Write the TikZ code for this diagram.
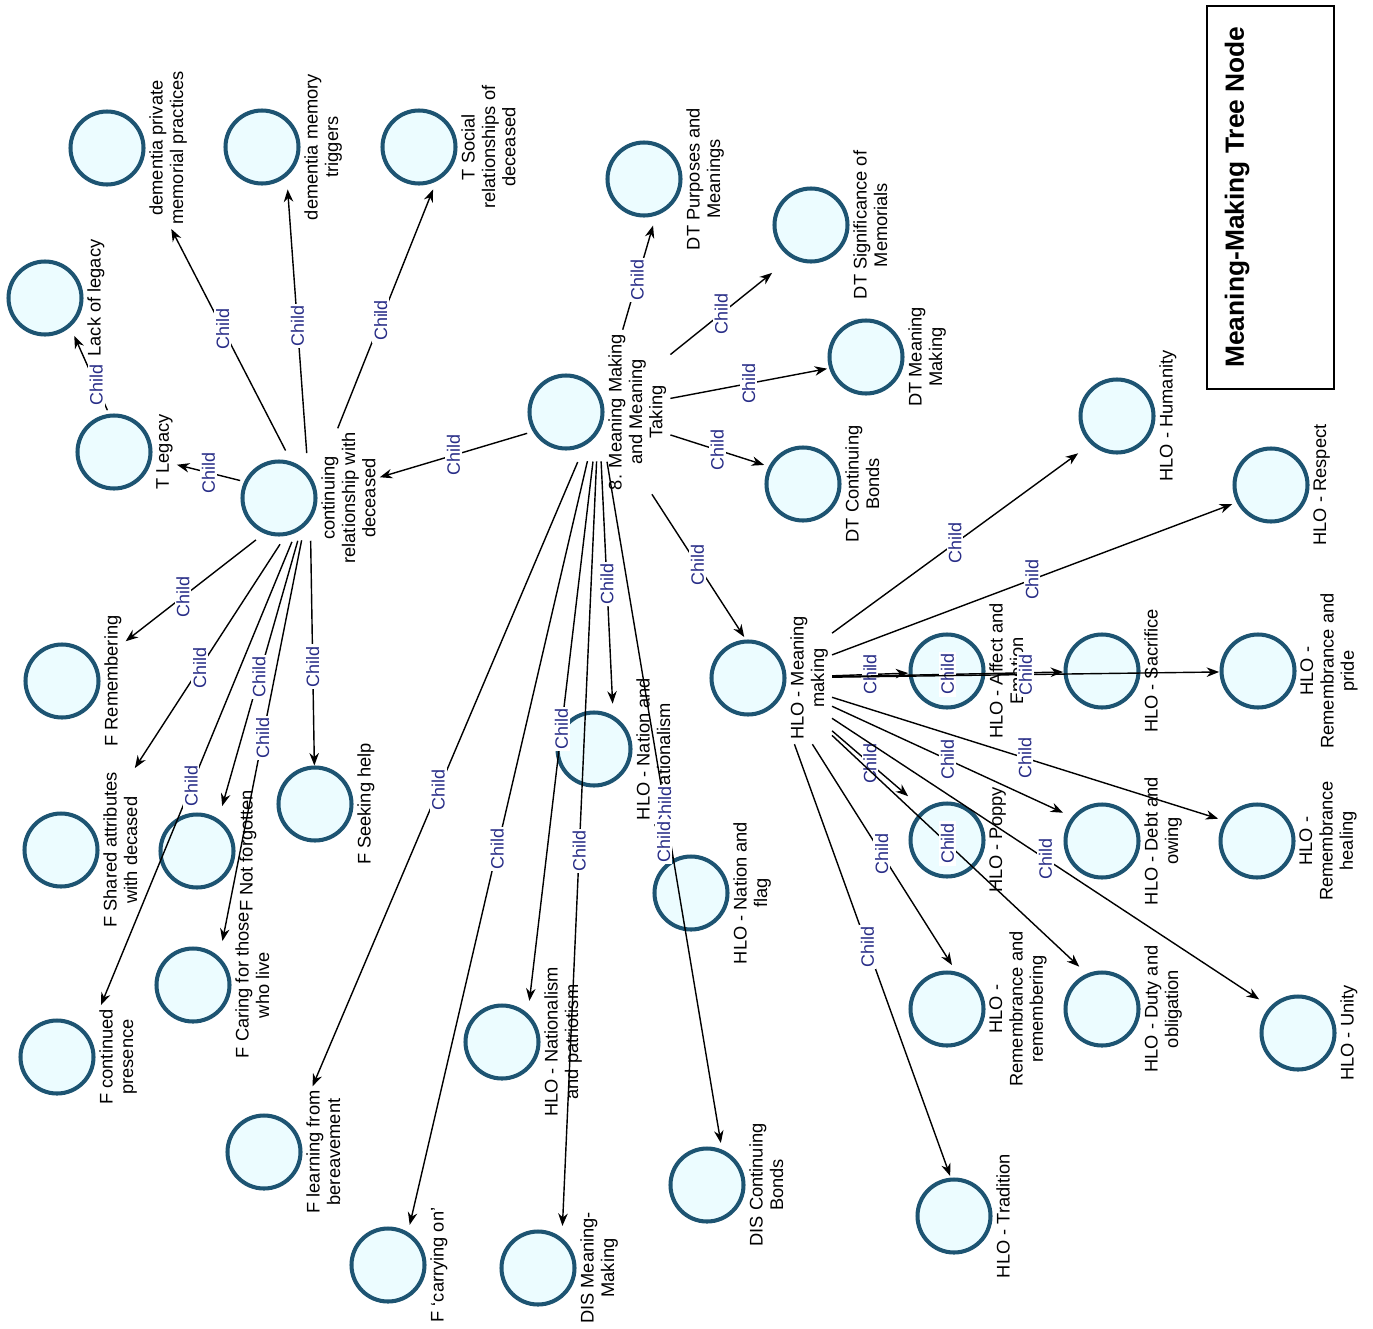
\documentclass[tikz,border=0pt]{standalone}
\usepackage{fontspec}
\setmainfont{Liberation Sans}
\usetikzlibrary{arrows.meta,fit}

\definecolor{ringblue}{RGB}{29,84,114}
\definecolor{ringfill}{RGB}{236,252,255}
\definecolor{tagblue}{RGB}{40,45,135}

\tikzset{
  topic/.style={shape=circle, draw=ringblue, fill=ringfill, line width=2.3pt, minimum size=14.6mm, inner sep=0pt},
  toplabel/.style={rotate=90, anchor=north, align=center, inner sep=2pt, font=\fontsize{10.4}{11.6}\selectfont},
  topicgroup/.style={inner sep=0pt},
  childedge/.style={-{Stealth[length=2.5mm,width=1.9mm]}, line width=0.8pt},
  deeper/.style={shorten >=-#1},
  fromring/.style={shorten <=-#1},
  childtag/.style={midway, rotate=90, fill=white, text=tagblue, inner sep=1pt, font=\fontsize{10.2}{11}\selectfont},
  keybox/.style={draw, line width=1pt, minimum width=25.4mm, minimum height=76.6mm},
  keytitle/.style={rotate=90, font=\fontsize{15}{18}\selectfont\bfseries}
}

\begin{document}
\begin{tikzpicture}[x=0.2mm, y=-0.2mm]
	\useasboundingbox (0,0) rectangle (1373,1328);

	% key
	\node[keybox] (key) at (1270.5,197.5) {};
	\node[keytitle] (keytext) at (1237,197) {Meaning-Making Tree Node};

	% tree nodes
	\node[topic] (dpriv-c) at (107,148) {};
	\node[toplabel] (dpriv-l) at (dpriv-c.east) {dementia private\\memorial practices};
	\node[topic] (dtrig-c) at (262,147) {};
	\node[toplabel] (dtrig-l) at (dtrig-c.east) {dementia memory\\triggers};
	\node[topic] (tsoc-c) at (419,147) {};
	\node[toplabel] (tsoc-l) at (tsoc-c.east) {T Social\\relationships of\\deceased};
	\node[topic] (lackl-c) at (45,298) {};
	\node[toplabel] (lackl-l) at (lackl-c.east) {Lack of legacy};
	\node[topic] (tleg-c) at (114,452) {};
	\node[toplabel] (tleg-l) at (tleg-c.east) {T Legacy};
	\node[topic] (cont-c) at (279,498) {};
	\node[toplabel] (cont-l) at (cont-c.east) {continuing\\relationship with\\deceased};

	\node[topic] (mmt-c) at (566,412) {};
	\node[toplabel] (mmt-l) at (mmt-c.east) {8. Meaning Making\\and Meaning\\Taking};
	\node[topic] (dtpur-c) at (644,179) {};
	\node[toplabel] (dtpur-l) at (dtpur-c.east) {DT Purposes and\\Meanings};
	\node[topic] (dtsig-c) at (811,225) {};
	\node[toplabel] (dtsig-l) at (dtsig-c.east) {DT Significance of\\Memorials};
	\node[topic] (dtmm-c) at (866,357) {};
	\node[toplabel] (dtmm-l) at (dtmm-c.east) {DT Meaning\\Making};
	\node[topic] (dtcb-c) at (803,484) {};
	\node[toplabel] (dtcb-l) at (dtcb-c.east) {DT Continuing\\Bonds};

	\node[topic] (hmm-c) at (748,678) {};
	\node[toplabel] (hmm-l) at (hmm-c.east) {HLO - Meaning\\making};
	\node[topic] (hum-c) at (1117,416) {};
	\node[toplabel] (hum-l) at (hum-c.east) {HLO - Humanity};
	\node[topic] (resp-c) at (1271,485) {};
	\node[toplabel] (resp-l) at (resp-c.east) {HLO - Respect};
	\node[topic] (aff-c) at (947,671) {};
	\node[toplabel] (aff-l) at (aff-c.east) {HLO - Affect and\\Emotion};
	\node[topic] (sacr-c) at (1102,671) {};
	\node[toplabel] (sacr-l) at (sacr-c.east) {HLO - Sacrifice};
	\node[topic] (rpride-c) at (1258,671) {};
	\node[toplabel] (rpride-l) at (rpride-c.east) {HLO -\\Remembrance and\\pride};
	\node[topic] (poppy-c) at (947,840) {};
	\node[toplabel] (poppy-l) at (poppy-c.east) {HLO - Poppy};
	\node[topic] (debt-c) at (1102,841) {};
	\node[toplabel] (debt-l) at (debt-c.east) {HLO - Debt and\\owing};
	\node[topic] (rheal-c) at (1257,841) {};
	\node[toplabel] (rheal-l) at (rheal-c.east) {HLO -\\Remembrance\\healing};
	\node[topic] (rrem-c) at (947,1009) {};
	\node[toplabel] (rrem-l) at (rrem-c.east) {HLO -\\Remembrance and\\remembering};
	\node[topic] (duty-c) at (1102,1009) {};
	\node[toplabel] (duty-l) at (duty-c.east) {HLO - Duty and\\obligation};
	\node[topic] (unity-c) at (1298,1033) {};
	\node[toplabel] (unity-l) at (unity-c.east) {HLO - Unity};
	\node[topic] (trad-c) at (954,1216) {};
	\node[toplabel] (trad-l) at (trad-c.east) {HLO - Tradition};

	\node[topic] (natn-c) at (594,749) {};
	\node[toplabel] (natn-l) at (natn-c.east) {HLO - Nation and\\nationalism};
	\node[topic] (flag-c) at (691,893) {};
	\node[toplabel] (flag-l) at (flag-c.east) {HLO - Nation and\\flag};
	\node[topic] (patr-c) at (502,1042) {};
	\node[toplabel] (patr-l) at (patr-c.east) {HLO - Nationalism\\and patriotism};
	\node[topic] (discb-c) at (707,1185) {};
	\node[toplabel] (discb-l) at (discb-c.east) {DIS Continuing\\Bonds};
	\node[topic] (dismm-c) at (538,1268) {};
	\node[toplabel] (dismm-l) at (dismm-c.east) {DIS Meaning-\\Making};
	\node[topic] (carry-c) at (388,1265) {};
	\node[toplabel] (carry-l) at (carry-c.east) {F `carrying on'};
	\node[topic] (learn-c) at (264,1152) {};
	\node[toplabel] (learn-l) at (learn-c.east) {F learning from\\bereavement};

	\node[topic] (pres-c) at (57,1057) {};
	\node[toplabel] (pres-l) at (pres-c.east) {F continued\\presence};
	\node[topic] (caring-c) at (193,985) {};
	\node[toplabel] (caring-l) at (caring-c.east) {F Caring for those\\who live};
	\node[topic] (shared-c) at (61,850) {};
	\node[toplabel] (shared-l) at (shared-c.east) {F Shared attributes\\with decased};
	\node[topic] (notf-c) at (197,851) {};
	\node[toplabel] (notf-l) at (notf-c.east) {F Not forgotten};
	\node[topic] (seek-c) at (315,804) {};
	\node[toplabel] (seek-l) at (seek-c.east) {F Seeking help};
	\node[topic] (remem-c) at (62,681) {};
	\node[toplabel] (remem-l) at (remem-c.east) {F Remembering};

	% circle and text taken together
	\foreach \n in {dpriv,dtrig,tsoc,lackl,tleg,cont,mmt,dtpur,dtsig,dtmm,dtcb,hmm,hum,resp,aff,sacr,rpride,poppy,debt,rheal,rrem,duty,unity,trad,natn,flag,patr,discb,dismm,carry,learn,pres,caring,shared,notf,seek,remem}
		\node[topicgroup, fit=(\n-c)(\n-l)] (\n) {};

	% 8. Meaning Making and Meaning Taking
	\draw[childedge] (mmt) -- node[childtag] {Child} (cont);
	\draw[childedge, deeper=6mm] (mmt) -- node[childtag, pos=0.66] {Child} (dtpur);
	\draw[childedge] (mmt) -- node[childtag] {Child} (dtsig);
	\draw[childedge] (mmt) -- node[childtag] {Child} (dtmm);
	\draw[childedge] (mmt) -- node[childtag] {Child} (dtcb);
	\draw[childedge, deeper=6mm] (mmt) -- node[childtag, pos=0.6] {Child} (hmm);
	\draw[childedge, fromring=6.6mm, deeper=6mm] (mmt) -- node[childtag] {Child} (natn);
	\draw[childedge, fromring=6.6mm, deeper=7.6mm] (mmt) -- node[childtag] {Child} (patr);
	\draw[childedge, fromring=6.6mm, deeper=3.6mm] (mmt) -- node[childtag] {Child} (dismm);
	\draw[childedge, fromring=6.6mm, deeper=4.8mm] (mmt) -- node[childtag] {Child} (discb);
	\draw[childedge, fromring=7mm] (mmt) -- node[childtag] {Child} (learn);
	\draw[childedge, fromring=6.8mm, deeper=4.4mm] (mmt) -- node[childtag] {Child} (carry);
	\draw[childedge] (natn) -- node[childtag] {Child} (flag-c);

	% continuing relationship with deceased
	\draw[childedge, fromring=5mm] (cont) -- node[childtag] {Child} (dpriv);
	\draw[childedge, fromring=5mm, deeper=7mm] (cont) -- node[childtag] {Child} (dtrig);
	\draw[childedge, deeper=5mm] (cont) -- node[childtag] {Child} (tsoc);
	\draw[childedge] (cont) -- node[childtag] {Child} (tleg);
	\draw[childedge, deeper=5.4mm] (tleg) -- node[childtag, pos=0.5] {Child} (lackl);
	\draw[childedge, fromring=4mm] (cont) -- node[childtag] {Child} (remem);
	\draw[childedge, fromring=5.6mm] (cont) -- node[childtag] {Child} (shared);
	\draw[childedge, fromring=5.6mm, deeper=4.2mm] (cont) -- node[childtag] {Child} (notf);
	\draw[childedge, fromring=5.6mm, deeper=6.8mm] (cont) -- node[childtag] {Child} (caring);
	\draw[childedge, fromring=5.6mm] (cont) -- node[childtag] {Child} (pres);
	\draw[childedge, fromring=5.4mm] (cont) -- node[childtag] {Child} (seek-c);

	% HLO - Meaning making
	\draw[childedge] (hmm) -- node[childtag] {Child} (hum);
	\draw[childedge] (hmm) -- node[childtag] {Child} (resp);
	\draw[childedge] (hmm) -- node[childtag] {Child} (aff);
	\draw[childedge] (hmm) -- node[childtag] {Child} (sacr);
	\draw[childedge] (hmm) -- node[childtag] {Child} (rpride);
	\draw[childedge] (hmm) -- node[childtag] {Child} (poppy);
	\draw[childedge] (hmm) -- node[childtag] {Child} (debt);
	\draw[childedge] (hmm) -- node[childtag] {Child} (rheal);
	\draw[childedge] (hmm) -- node[childtag] {Child} (unity);
	\draw[childedge, deeper=4.4mm] (hmm) -- node[childtag] {Child} (duty);
	\draw[childedge, deeper=9mm] (hmm) -- node[childtag, pos=0.6] {Child} (rrem);
	\draw[childedge, deeper=5.6mm] (hmm) -- node[childtag] {Child} (trad);

\end{tikzpicture}
\end{document}
